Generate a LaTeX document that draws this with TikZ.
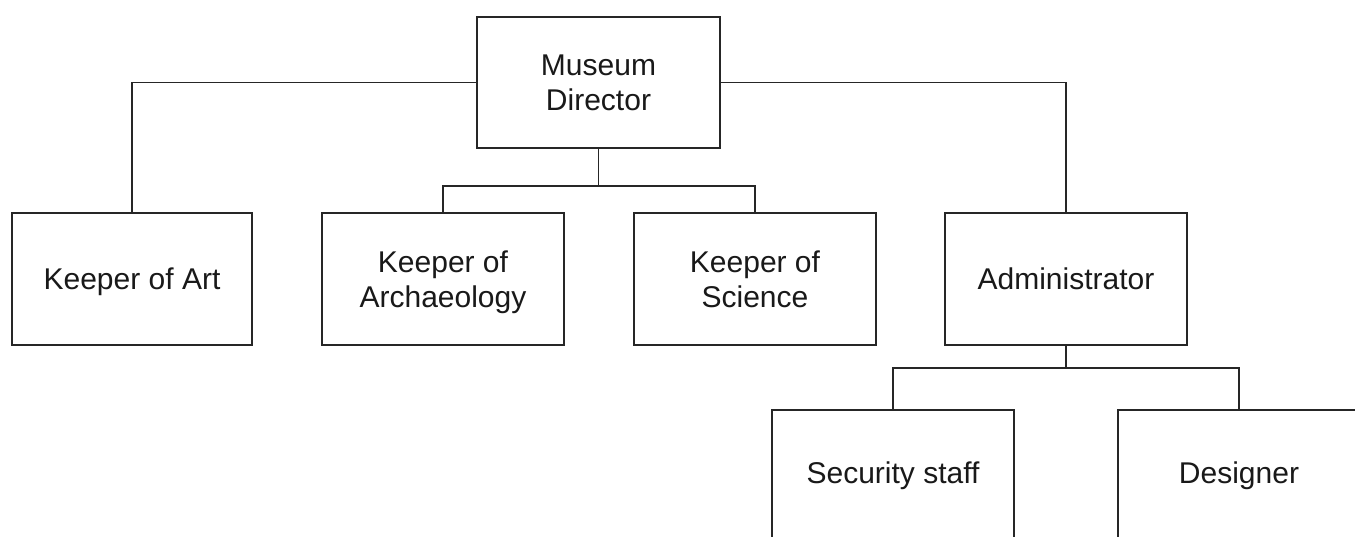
\documentclass[tikz,border=0pt]{standalone}
\usepackage{fontspec}
\setmainfont{Liberation Sans}
\begin{document}
\begin{tikzpicture}[x=1pt,y=-1pt,
  lbl/.style={font=\fontsize{30}{35.5}\selectfont, text=black!90, align=center, inner sep=0pt},
  box/.style={lbl, draw=black!85, line width=1.9pt, fill=white, minimum width=242pt, minimum height=132pt, text depth=0pt},
  conn/.style={draw=black!85, line width=1.9pt}]
\clip (0,0) rectangle (1355,536);
\useasboundingbox (0,0) rectangle (1355,536);
\node[box, minimum width=243pt, minimum height=131pt] (dir) at (598.5,82.5) {Museum\\Director};
\node[box, minimum width=240pt] (art) at (132,279) {Keeper of Art};
\node[box] (arch) at (443,279) {Keeper of\\Archaeology};
\node[box] (sci) at (755,279) {Keeper of\\Science};
\node[box] (adm) at (1066,279) {Administrator};
\node[box, minimum height=200pt] (sec) at (893,510) {};
\node[lbl] (sect) at (893,476) {Security staff};
\node[box, minimum height=200pt] (des) at (1239,510) {};
\node[lbl] (dest) at (1239,476) {Designer};
\coordinate (j1) at (598.5,186);
\coordinate (j2) at (1066,368);
\draw[conn] (dir.west) -| (art.north);
\draw[conn] (dir.east) -| (adm.north);
\draw[conn] (dir.south) -- (j1);
\draw[conn] (arch.north) |- (j1) -| (sci.north);
\draw[conn] (adm.south) -- (j2);
\draw[conn] (sec.north) |- (j2) -| (des.north);
\end{tikzpicture}
\end{document}
